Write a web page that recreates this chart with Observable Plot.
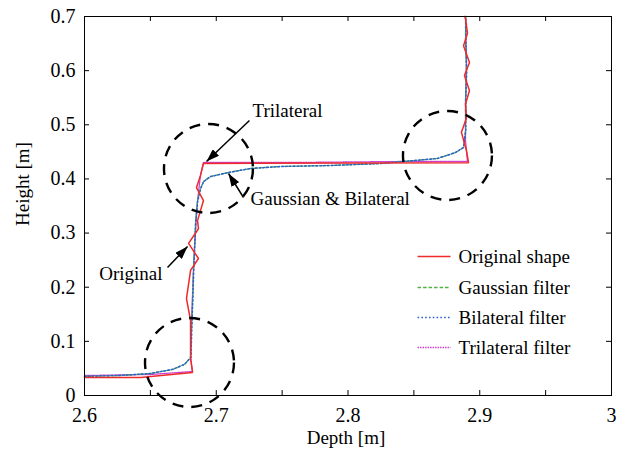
<!DOCTYPE html>
<html><head><meta charset="utf-8">
<script src="https://cdn.jsdelivr.net/npm/d3@7"></script>
<script src="https://cdn.jsdelivr.net/npm/@observablehq/plot@0.6"></script>
<style>body{margin:0;background:#fff} svg{display:block}</style>
</head><body><div id="chart"></div>
<script>
// ---- series ----
const seriesNames  = ["Original shape", "Gaussian filter", "Bilateral filter", "Trilateral filter"];
const seriesColors = ["#ee2a2a", "#4fb33f", "#2c5fd4", "#cc3fcc"];
const seriesDash   = [null, "3.5,2", "1.6,2.2", "1.5,1"];
const seriesWidth  = [1.5, 1.3, 1.5, 1.3];
const drawOrder    = [3, 1, 2, 0];

const originalDepth  = [2.6, 2.6425, 2.682, 2.6805, 2.6805, 2.6774, 2.6805, 2.6865, 2.679, 2.6865, 2.6858, 2.6903, 2.685, 2.688, 2.6903, 2.8915, 2.8899, 2.8861, 2.8899, 2.8892, 2.8922, 2.8884, 2.8922, 2.8877, 2.8907, 2.8892, 2.8887];
const originalHeight = [0.0332, 0.0332, 0.0425, 0.070, 0.1385, 0.179, 0.231, 0.253, 0.281, 0.308, 0.323, 0.360, 0.384, 0.406, 0.4285, 0.430, 0.4525, 0.486, 0.512, 0.539, 0.563, 0.591, 0.615, 0.646, 0.669, 0.696, 0.7];

const gaussianDepth  = [2.6, 2.6273, 2.6501, 2.6668, 2.6759, 2.6805, 2.6812, 2.682, 2.6827, 2.6835, 2.6843, 2.6858, 2.688, 2.6903, 2.6956, 2.7093, 2.726, 2.7488, 2.7867, 2.8247, 2.8679, 2.8816, 2.8877, 2.8892, 2.8892, 2.8899, 2.8892, 2.8892];
const gaussianHeight = [0.0351, 0.0369, 0.0406, 0.048, 0.0573, 0.0702, 0.12, 0.1755, 0.2309, 0.277, 0.3232, 0.3602, 0.3823, 0.3953, 0.4045, 0.4119, 0.4193, 0.423, 0.4248, 0.4285, 0.4378, 0.4488, 0.4581, 0.4895, 0.5449, 0.6003, 0.6557, 0.7];

const bilateralDepth  = [2.6, 2.6273, 2.6501, 2.6668, 2.6759, 2.6808, 2.6814, 2.6822, 2.6829, 2.6837, 2.6845, 2.686, 2.6882, 2.6905, 2.6958, 2.7093, 2.726, 2.7488, 2.7867, 2.8247, 2.8679, 2.8816, 2.8877, 2.8894, 2.8894, 2.8901, 2.8894, 2.8894];
const bilateralHeight = [0.0355, 0.0372, 0.0408, 0.0482, 0.0575, 0.0702, 0.12, 0.1755, 0.2309, 0.277, 0.3232, 0.3602, 0.3823, 0.3953, 0.4045, 0.4119, 0.4193, 0.423, 0.4248, 0.4285, 0.4378, 0.4488, 0.4581, 0.4895, 0.5449, 0.6003, 0.6557, 0.7];

const trilateralDepth  = [2.6, 2.6501, 2.682, 2.6805, 2.6812, 2.6827, 2.6843, 2.6858, 2.688, 2.6903, 2.7639, 2.8398, 2.8907, 2.8892, 2.8892, 2.8899, 2.8892];
const trilateralHeight = [0.0369, 0.0388, 0.0443, 0.0683, 0.1385, 0.2309, 0.3048, 0.3602, 0.4064, 0.4305, 0.4305, 0.4322, 0.4322, 0.471, 0.5449, 0.6188, 0.7];

// ---- axes ----
const xTicks = [2.6, 2.65, 2.7, 2.75, 2.8, 2.85, 2.9, 2.95, 3.0];
const xTickLabels = [2.6, 2.7, 2.8, 2.9, 3.0];
const yTicks = [0, 0.1, 0.2, 0.3, 0.4, 0.5, 0.6, 0.7];
const xLabel = "Depth [m]";
const yLabel = "Height [m]";

// ---- annotations ----
const circleDepth  = [2.6941, 2.8755, 2.6797];
const circleHeight = [0.4193, 0.4433, 0.061];

const annoLabels = ["Trilateral", "Gaussian & Bilateral", "Original"];
const annoDepth  = [2.7275, 2.726, 2.6592];
const annoHeight = [0.5264, 0.364, 0.2253];
const annoAnchor = ["start", "start", "end"];

const arrowFromDepth  = [2.7252, 2.7207, 2.663];
const arrowFromHeight = [0.508, 0.3657, 0.2364];
const arrowToDepth    = [2.6926, 2.7093, 2.6782];
const arrowToHeight   = [0.4322, 0.41, 0.2752];

// ---- legend placement (data units) ----
const legendLineDepth = [2.8528, 2.8778];
const legendTextDepth = 2.8839;
const legendHeight = [0.2567, 0.1995, 0.1441, 0.0887];

// ---- build ----
const seriesData = [
  [originalDepth, originalHeight],
  [gaussianDepth, gaussianHeight],
  [bilateralDepth, bilateralHeight],
  [trilateralDepth, trilateralHeight]
].map(([xs, ys]) => xs.map((d, i) => ({depth: d, height: ys[i]})));

function filledArrow(color, context) {
  const ns = "http://www.w3.org/2000/svg";
  const m = document.createElementNS(ns, "marker");
  m.setAttribute("viewBox", "0 -4.5 13 9");
  m.setAttribute("refX", "13");
  m.setAttribute("refY", "0");
  m.setAttribute("markerUnits", "userSpaceOnUse");
  m.setAttribute("markerWidth", "13");
  m.setAttribute("markerHeight", "9");
  m.setAttribute("orient", "auto");
  const p = document.createElementNS(ns, "path");
  p.setAttribute("d", "M0,-4.5L13,0L0,4.5Z");
  p.setAttribute("fill", color);
  p.setAttribute("stroke", "none");
  m.appendChild(p);
  return m;
}

const circles = circleDepth.map((d, i) => ({depth: d, height: circleHeight[i]}));
const arrows = arrowFromDepth.map((d, i) => ({x1: d, y1: arrowFromHeight[i], x2: arrowToDepth[i], y2: arrowToHeight[i]}));

const marks = [];
// inward ticks
marks.push(Plot.tickX(xTicks, {x: d => d, insetTop: 374, stroke: "black", strokeWidth: 1}));
marks.push(Plot.tickX(xTicks, {x: d => d, insetBottom: 374, stroke: "black", strokeWidth: 1}));
marks.push(Plot.tickY(yTicks, {y: d => d, insetRight: 522, stroke: "black", strokeWidth: 1}));
marks.push(Plot.tickY(yTicks, {y: d => d, insetLeft: 522, stroke: "black", strokeWidth: 1}));
marks.push(Plot.axisX({ticks: xTickLabels, tickSize: 0, tickPadding: 12, fontSize: 20, tickFormat: d => String(+d.toFixed(2)), label: null}));
marks.push(Plot.axisY({ticks: yTicks, tickSize: 0, tickPadding: 9, fontSize: 20, tickFormat: d => String(+d.toFixed(2)), label: null}));
// series
drawOrder.forEach(k => {
  marks.push(Plot.line(seriesData[k], {x: "depth", y: "height", stroke: seriesColors[k], strokeWidth: seriesWidth[k], strokeDasharray: seriesDash[k], strokeLinejoin: "miter"}));
});
// dashed circles
marks.push(Plot.dot(circles, {x: "depth", y: "height", r: 44.5, stroke: "black", fill: "none", strokeWidth: 2.4, strokeDasharray: "11,8"}));
// arrows
marks.push(Plot.link(arrows, {x1: "x1", y1: "y1", x2: "x2", y2: "y2", stroke: "black", strokeWidth: 1.5, markerEnd: filledArrow}));
// annotation texts
annoLabels.forEach((t, i) => {
  marks.push(Plot.text([t], {x: () => annoDepth[i], y: () => annoHeight[i], text: d => d, textAnchor: annoAnchor[i], fontSize: 19, fill: "black"}));
});
// legend
seriesNames.forEach((name, k) => {
  marks.push(Plot.link([name], {x1: () => legendLineDepth[0], x2: () => legendLineDepth[1], y1: () => legendHeight[k], y2: () => legendHeight[k], stroke: seriesColors[k], strokeWidth: seriesWidth[k], strokeDasharray: seriesDash[k]}));
  marks.push(Plot.text([name], {x: () => legendTextDepth, y: () => legendHeight[k], text: d => d, textAnchor: "start", fontSize: 19, fill: "black"}));
});
// axis labels
marks.push(Plot.text([xLabel], {frameAnchor: "bottom", dy: 48, dx: -2, text: d => d, fontSize: 19, fill: "black"}));
marks.push(Plot.text([yLabel], {frameAnchor: "left", dx: -62, dy: 20, rotate: -90, text: d => d, fontSize: 19, fill: "black"}));
marks.push(Plot.frame({stroke: "black", strokeWidth: 1}));

const chart = Plot.plot({
  width: 624, height: 459,
  marginLeft: 84, marginRight: 13, marginTop: 16, marginBottom: 64,
  x: {domain: [2.6, 3.0]},
  y: {domain: [0, 0.7]},
  style: {fontFamily: "'Liberation Serif', 'Times New Roman', serif", fontSize: "19px", color: "black", background: "white", overflow: "visible"},
  marks
});
document.getElementById("chart").appendChild(chart);
</script>
</body></html>
